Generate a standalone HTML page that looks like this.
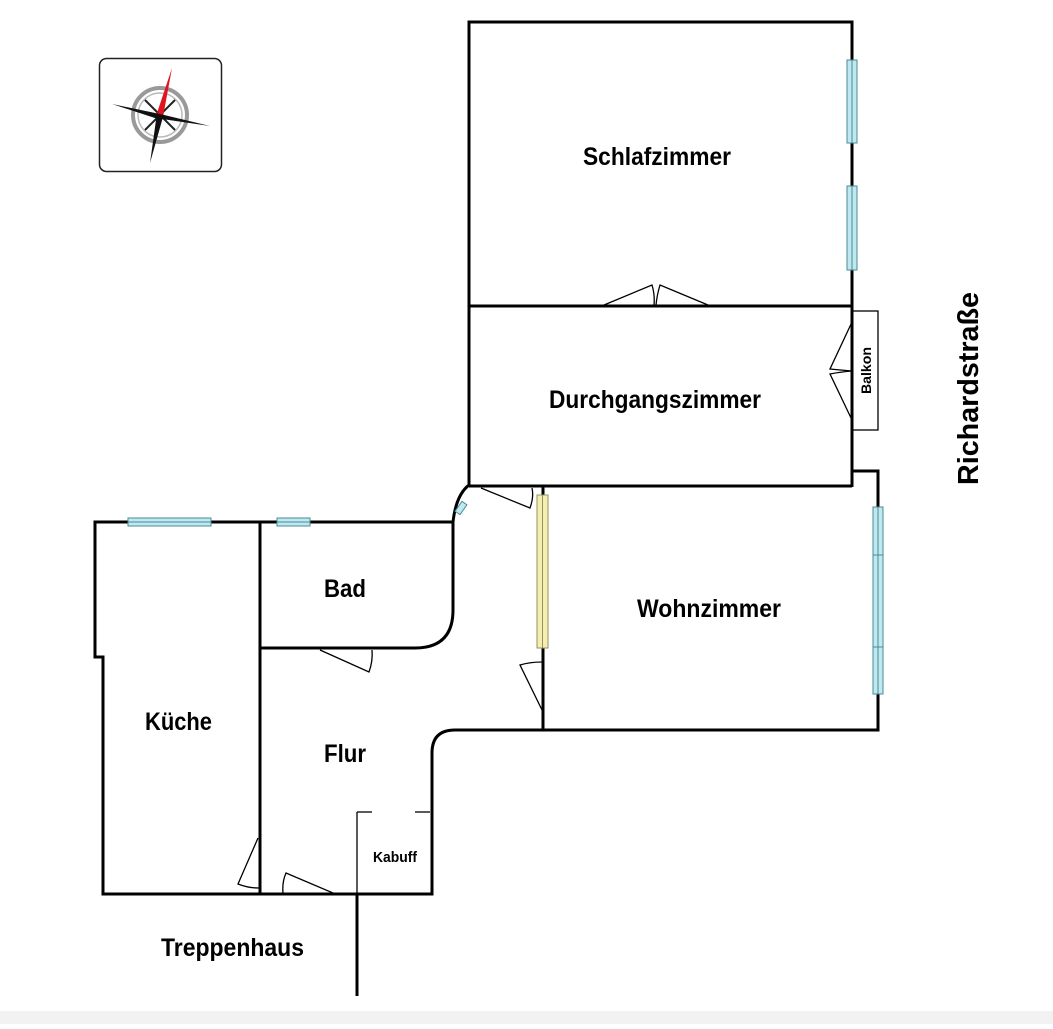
<!DOCTYPE html>
<html><head><meta charset="utf-8"><style>
html,body{margin:0;padding:0;background:#fff;}
svg text{font-family:"Liberation Sans",sans-serif;font-weight:bold;fill:#000;}
</style></head><body>
<svg width="1053" height="1024" viewBox="0 0 1053 1024" xmlns="http://www.w3.org/2000/svg">
<rect x="0" y="1011" width="1053" height="13" fill="#f2f2f2"/>
<!-- compass -->
<rect x="99.5" y="58.5" width="122" height="113" rx="7" fill="#fff" stroke="#222" stroke-width="1.5"/>
<circle cx="160" cy="115" r="27" fill="none" stroke="#999" stroke-width="4"/>
<circle cx="160" cy="115" r="22" fill="none" stroke="#bbb" stroke-width="1.5"/>
<g stroke="#222" stroke-width="2"><line x1="145" y1="100" x2="175" y2="130"/><line x1="175" y1="100" x2="145" y2="130"/></g>
<polygon points="172,68 163,117 157,113" fill="#e0141e"/>
<polygon points="150,163 157,113 163,117" fill="#111"/>
<polygon points="112,104 160,114 158,119" fill="#111"/>
<polygon points="210,126 160,114 162,119" fill="#111"/>
<g fill="none" stroke="#000" stroke-width="3">
<polyline points="469,487 469,22 852,22 852,487"/>
<line x1="469" y1="306" x2="852" y2="306"/>
<line x1="469" y1="486" x2="852" y2="486"/>
<path d="M852,471 L878,471 L878,730 L455,730 Q432,730 432,753 L432,894 L103,894 L103,657 L95,657 L95,522 L453,522"/>
<path d="M469,485 Q456,495 453,522 L453,610 Q453,648 415,648 L260,648"/>
<line x1="260" y1="522" x2="260" y2="894"/>
<line x1="543" y1="486" x2="543" y2="730"/>
<line x1="357" y1="894" x2="357" y2="996"/>
</g>
<g fill="none" stroke="#000" stroke-width="1.3">
<rect x="852" y="311" width="26" height="119"/>
<line x1="357" y1="812" x2="357" y2="894"/>
<line x1="357" y1="812" x2="372" y2="812"/><line x1="415" y1="812" x2="430" y2="812"/>
<path d="M604,305 L652,285 Q655,295 654,305"/>
<path d="M708,305 L660,285 Q657,295 656,305"/>
<path d="M852,322 L830,369 Q840,370 852,371"/>
<path d="M852,420 L830,374 Q840,372 852,371"/>
<path d="M481,488 L530,508 Q534,497 532,488"/>
<path d="M542,662 Q530,662 520,665 L542,710"/>
<path d="M320,650 L369,672 Q373,661 372,650"/>
<path d="M258,838 L238,884 Q248,888 259,888"/>
<path d="M333,893 L286,873 Q282,882 283,893"/>
</g>
<g fill="#bfe9f0" stroke="#4b8a93" stroke-width="1">
<rect x="128" y="518" width="83" height="8"/><line x1="128" y1="522" x2="211" y2="522"/>
<rect x="277" y="518" width="33" height="8"/><line x1="277" y1="522" x2="310" y2="522"/>
<rect x="847" y="60" width="10" height="83"/><line x1="852" y1="60" x2="852" y2="143"/>
<rect x="847" y="186" width="10" height="84"/><line x1="852" y1="186" x2="852" y2="270"/>
<rect x="873" y="507" width="10" height="187"/><line x1="878" y1="507" x2="878" y2="694"/>
<line x1="873" y1="555" x2="883" y2="555"/><line x1="873" y1="647" x2="883" y2="647"/>
<rect x="455" y="505" width="12" height="6" transform="rotate(-55 461 508)"/>
</g>
<rect x="537" y="495" width="11" height="153" fill="#f4eeb0" stroke="#9a9060" stroke-width="1"/>
<line x1="542.5" y1="495" x2="542.5" y2="648" stroke="#9a9060" stroke-width="1"/>
<g font-size="25" lengthAdjust="spacingAndGlyphs">
<text x="583" y="165" textLength="148" lengthAdjust="spacingAndGlyphs">Schlafzimmer</text>
<text x="549" y="408" textLength="212" lengthAdjust="spacingAndGlyphs">Durchgangszimmer</text>
<text x="637" y="617" textLength="144" lengthAdjust="spacingAndGlyphs">Wohnzimmer</text>
<text x="324" y="597" textLength="42" lengthAdjust="spacingAndGlyphs">Bad</text>
<text x="145" y="730" textLength="67" lengthAdjust="spacingAndGlyphs">Küche</text>
<text x="324" y="762" textLength="42" lengthAdjust="spacingAndGlyphs">Flur</text>
<text x="161" y="956" textLength="143" lengthAdjust="spacingAndGlyphs">Treppenhaus</text>
</g>
<text x="373" y="862" font-size="15" textLength="44" lengthAdjust="spacingAndGlyphs">Kabuff</text>
<text transform="translate(871 394) rotate(-90)" font-size="14" textLength="47" lengthAdjust="spacingAndGlyphs">Balkon</text>
<text transform="translate(978 485) rotate(-90)" font-size="29" textLength="193" lengthAdjust="spacingAndGlyphs">Richardstraße</text>
</svg>
</body></html>
